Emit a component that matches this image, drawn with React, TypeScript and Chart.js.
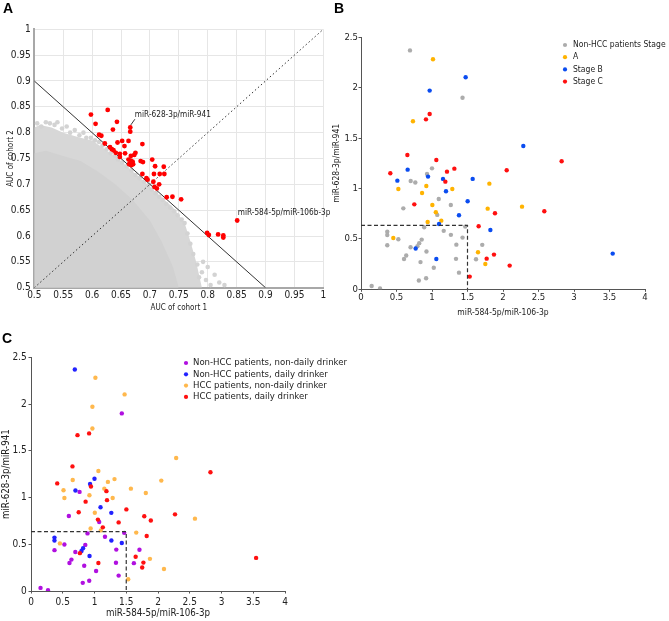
import React, { useEffect, useRef } from "react";
import { Chart, registerables } from "chart.js";

Chart.register(...registerables);

const FONT = "'DejaVu Sans Condensed', 'DejaVu Sans', sans-serif";
const TEXT = "#222";

// ---------------- Panel A : AUC of cohort 1 vs cohort 2 ----------------
const A_TICKS = [0.5, 0.55, 0.6, 0.65, 0.7, 0.75, 0.8, 0.85, 0.9, 0.95, 1];
const A_X_TITLE = "AUC of cohort 1";
const A_Y_TITLE = "AUC of cohort 2";

// selected ratios (red)
const A_SEL_X = [0.598, 0.606, 0.612, 0.616, 0.627, 0.643, 0.666, 0.666, 0.636, 0.622, 0.631, 0.634, 0.637, 0.644, 0.652, 0.663, 0.687, 0.656, 0.641, 0.648, 0.648, 0.657, 0.667, 0.673, 0.675, 0.663, 0.667, 0.670, 0.664, 0.668, 0.671, 0.684, 0.688, 0.704, 0.709, 0.724, 0.687, 0.707, 0.717, 0.725, 0.694, 0.696, 0.706, 0.716, 0.708, 0.712, 0.729, 0.739, 0.754, 0.851, 0.799, 0.802, 0.818, 0.827, 0.827];
const A_SEL_Y = [0.835, 0.817, 0.796, 0.794, 0.844, 0.821, 0.810, 0.802, 0.806, 0.779, 0.772, 0.768, 0.766, 0.781, 0.784, 0.784, 0.778, 0.774, 0.761, 0.759, 0.753, 0.760, 0.755, 0.757, 0.761, 0.748, 0.746, 0.744, 0.739, 0.737, 0.739, 0.745, 0.743, 0.748, 0.735, 0.734, 0.720, 0.720, 0.720, 0.720, 0.712, 0.709, 0.705, 0.700, 0.695, 0.692, 0.675, 0.676, 0.671, 0.630, 0.606, 0.602, 0.603, 0.601, 0.597];

// outline of the dense grey cloud of all other ratios
const A_CLOUD_OUTER_X = [0.5, 0.51, 0.53, 0.55, 0.58, 0.6, 0.62, 0.65, 0.68, 0.71, 0.74, 0.76, 0.77, 0.78, 0.79];
const A_CLOUD_OUTER_Y = [0.81, 0.815, 0.81, 0.80, 0.79, 0.785, 0.77, 0.745, 0.715, 0.685, 0.655, 0.625, 0.59, 0.55, 0.5];
const A_CLOUD_INNER_X = [0.5, 0.52, 0.55, 0.58, 0.61, 0.64, 0.67, 0.7, 0.72, 0.74, 0.75];
const A_CLOUD_INNER_Y = [0.76, 0.765, 0.755, 0.745, 0.725, 0.70, 0.67, 0.63, 0.59, 0.54, 0.5];
// scattered grey ratios along the cloud edge
const A_GREY_X = [0.505, 0.512, 0.52, 0.527, 0.535, 0.54, 0.548, 0.556, 0.562, 0.57, 0.578, 0.585, 0.59, 0.598, 0.605, 0.612, 0.618, 0.625, 0.632, 0.64, 0.645, 0.652, 0.66, 0.668, 0.675, 0.682, 0.69, 0.697, 0.703, 0.71, 0.716, 0.722, 0.728, 0.735, 0.742, 0.748, 0.755, 0.76, 0.765, 0.77, 0.775, 0.782, 0.79, 0.785, 0.797, 0.80, 0.812, 0.82, 0.829, 0.805, 0.792];
const A_GREY_Y = [0.818, 0.812, 0.82, 0.818, 0.815, 0.82, 0.808, 0.812, 0.80, 0.805, 0.795, 0.80, 0.79, 0.79, 0.785, 0.782, 0.775, 0.768, 0.76, 0.755, 0.748, 0.742, 0.735, 0.727, 0.718, 0.712, 0.705, 0.698, 0.69, 0.683, 0.676, 0.67, 0.662, 0.655, 0.648, 0.64, 0.632, 0.625, 0.605, 0.585, 0.565, 0.545, 0.53, 0.52, 0.515, 0.54, 0.525, 0.51, 0.505, 0.505, 0.55];

const A_CUT_X = [0.5, 0.9];
const A_CUT_Y = [0.9, 0.5];
const A_DIAG_X = [0.5, 1];
const A_DIAG_Y = [0.5, 1];
const A_LEADER_X = [0.667, 0.674];
const A_LEADER_Y = [0.815, 0.826];
const A_NOTES = [
  { text: "miR-628-3p/miR-941", x: 0.674, y: 0.834 },
  { text: "miR-584-5p/miR-106b-3p", x: 0.852, y: 0.644 },
];

// ---------------- Panels B and C : ratio scatter ----------------
const R_X_TICKS = [0, 0.5, 1, 1.5, 2, 2.5, 3, 3.5, 4];
const R_Y_TICKS = [0, 0.5, 1, 1.5, 2, 2.5];
const R_X_TITLE = "miR-584-5p/miR-106-3p";
const R_Y_TITLE = "miR-628-3p/miR-941";
const CUTOFF_X = [0, 1.5, 1.5];
const CUTOFF_Y = [0.635, 0.635, 0];

// each patient: ratio values, group (N = non-HCC, A/B/C = HCC stage), daily drinker (1/0)
const PT_X = [
  0.69, 1.43, 1.00, 0.93, 0.70, 0.765, 1.095, 0.596, 1.265, 1.074, 1.468, 0.89, 0.37, 0.37, 0.526, 0.855, 1.165, 1.266, 1.43, 1.708, 0.37, 0.698, 0.795, 0.82, 0.922, 1.343, 0.637, 0.606, 1.338, 1.62, 0.838, 1.025, 1.38, 0.917, 0.815, 0.15, 0.268,
  1.014, 0.732, 0.92, 0.526, 1.286, 0.86, 1.808, 1.005, 1.784, 2.268, 1.054, 0.939, 1.131, 0.455, 1.648, 1.751,
  1.474, 0.967, 2.286, 0.657, 0.944, 1.155, 0.512, 1.573, 1.197, 1.502, 1.38, 1.099, 1.822, 0.77, 1.061, 3.545,
  0.967, 0.915, 0.653, 1.061, 1.315, 1.211, 0.413, 1.188, 2.052, 2.826, 0.751, 1.887, 2.582, 1.657, 1.77, 1.873, 2.094, 1.531,
];
const PT_Y = [
  2.37, 1.90, 1.20, 1.145, 1.075, 1.06, 0.896, 0.803, 0.836, 0.738, 0.622, 0.616, 0.571, 0.539, 0.497, 0.493, 0.58, 0.54, 0.513, 0.441, 0.437, 0.417, 0.428, 0.458, 0.375, 0.443, 0.336, 0.3, 0.302, 0.298, 0.27, 0.214, 0.165, 0.109, 0.087, 0.033, 0.008,
  2.282, 1.667, 1.025, 0.995, 0.995, 0.956, 1.048, 0.837, 0.80, 0.82, 0.764, 0.668, 0.681, 0.509, 0.367, 0.251,
  2.103, 1.971, 1.422, 1.187, 1.118, 1.095, 1.078, 1.095, 0.972, 0.873, 0.734, 0.648, 0.589, 0.405, 0.30, 0.354,
  1.739, 1.686, 1.333, 1.283, 1.197, 1.167, 1.151, 1.068, 1.181, 1.27, 0.843, 0.754, 0.774, 0.625, 0.304, 0.344, 0.235, 0.126,
];
const PT_GROUP = [
  "N", "N", "N", "N", "N", "N", "N", "N", "N", "N", "N", "N", "N", "N", "N", "N", "N", "N", "N", "N", "N", "N", "N", "N", "N", "N", "N", "N", "N", "N", "N", "N", "N", "N", "N", "N", "N",
  "A", "A", "A", "A", "A", "A", "A", "A", "A", "A", "A", "A", "A", "A", "A", "A",
  "B", "B", "B", "B", "B", "B", "B", "B", "B", "B", "B", "B", "B", "B", "B", "B",
  "C", "C", "C", "C", "C", "C", "C", "C", "C", "C", "C", "C", "C", "C", "C", "C", "C", "C",
];
const PT_DAILY = [
  1, 0, 1, 1, 1, 0, 1, 0, 1, 0, 0, 0, 1, 1, 0, 0, 0, 1, 1, 0, 0, 0, 1, 1, 1, 0, 0, 0, 0, 0, 0, 0, 0, 0, 0, 0, 0,
  0, 1, 0, 0, 0, 1, 0, 0, 1, 1, 1, 0, 1, 0, 1, 1,
  0, 0, 0, 0, 1, 0, 0, 0, 1, 1, 1, 0, 1, 1, 1, 1,
  0, 1, 1, 0, 0, 0, 1, 1, 0, 1, 1, 1, 0, 0, 1, 0, 0, 0,
];

const B_LABELS = ["Non-HCC patients Stage", "A", "Stage B", "Stage C"];
const B_KEYS = ["N", "A", "B", "C"];
const B_COLORS = ["#acacac", "#ffb300", "#0a4cf0", "#ff1010"];

const C_LABELS = [
  "Non-HCC patients, non-daily drinker",
  "Non-HCC patients, daily drinker",
  "HCC patients, non-daily drinker",
  "HCC patients, daily drinker",
];
const C_COLORS = ["#b010e0", "#2222ff", "#ffb84d", "#ff1010"];

// ---------------- helpers ----------------
const zip = (xs: number[], ys: number[]) => xs.map((x, i) => ({ x, y: ys[i] }));
const fmt = (v: any) => String(+Number(v).toFixed(2));

function legendPlugin(labels: string[], colors: string[], dx: number, dy: number, step: number, size: number, gap: number) {
  return {
    id: "customLegend",
    afterDraw(chart: any) {
      const { ctx, chartArea } = chart;
      ctx.save();
      ctx.font = `${size}px ${FONT}`;
      ctx.textBaseline = "middle";
      ctx.textAlign = "left";
      labels.forEach((lab, i) => {
        const cx = chartArea.left + dx;
        const cy = chartArea.top + dy + i * step;
        ctx.fillStyle = colors[i];
        ctx.beginPath();
        ctx.arc(cx, cy, 2.1, 0, Math.PI * 2);
        ctx.fill();
        ctx.fillStyle = TEXT;
        ctx.fillText(lab, cx + gap, cy);
      });
      ctx.restore();
    },
  };
}

const notesPlugin = {
  id: "notes",
  afterDatasetsDraw(chart: any) {
    const { ctx } = chart;
    const xs = chart.scales.x;
    const ys = chart.scales.y;
    ctx.save();
    ctx.font = `8.2px ${FONT}`;
    ctx.fillStyle = TEXT;
    ctx.textBaseline = "middle";
    ctx.textAlign = "left";
    A_NOTES.forEach((n) => ctx.fillText(n.text, xs.getPixelForValue(n.x), ys.getPixelForValue(n.y)));
    ctx.restore();
  },
};

function configA(): any {
  const tickFont = { family: FONT, size: 10 };
  const titleFont = { family: FONT, size: 8 };
  return {
    type: "scatter",
    data: {
      datasets: [
        { data: zip(A_SEL_X, A_SEL_Y), backgroundColor: "#ff0000", borderWidth: 0, pointRadius: 2.4, order: 1 },
        { type: "line", data: zip(A_LEADER_X, A_LEADER_Y), borderColor: "#222", borderWidth: 0.9, pointRadius: 0, fill: false, order: 2 },
        { type: "line", data: zip(A_CUT_X, A_CUT_Y), borderColor: "#333", borderWidth: 1, pointRadius: 0, fill: false, order: 3 },
        { type: "line", data: zip(A_DIAG_X, A_DIAG_Y), borderColor: "#333", borderWidth: 1, borderDash: [1.5, 2.5], pointRadius: 0, fill: false, order: 4 },
        { data: zip(A_GREY_X, A_GREY_Y), backgroundColor: "#d3d3d3", borderWidth: 0, pointRadius: 2.3, order: 5 },
        { type: "line", data: zip(A_CLOUD_INNER_X, A_CLOUD_INNER_Y), borderColor: "rgba(0,0,0,0)", backgroundColor: "#d1d1d1", pointRadius: 0, tension: 0, fill: "start", order: 6 },
        { type: "line", data: zip(A_CLOUD_OUTER_X, A_CLOUD_OUTER_Y), borderColor: "rgba(0,0,0,0)", backgroundColor: "#d7d7d7", pointRadius: 0, tension: 0, fill: "start", order: 7 },
      ],
    },
    options: {
      animation: false,
      responsive: false,
      devicePixelRatio: 1,
      events: [],
      layout: { padding: { left: 0, top: 29.3, right: 6.7, bottom: 0 } },
      plugins: { legend: { display: false }, tooltip: { enabled: false } },
      scales: {
        x: {
          type: "linear", min: 0.5, max: 1,
          afterBuildTicks: (s: any) => { s.ticks = A_TICKS.map((v) => ({ value: v })); },
          afterFit: (s: any) => { s.height = 32.3; s.paddingLeft = 0; s.paddingRight = 0; },
          ticks: { font: tickFont, color: TEXT, padding: 1.3, maxRotation: 0, autoSkip: false, callback: fmt },
          grid: { color: "#e6e6e6", drawTicks: false },
          border: { color: "#a8a8a8", width: 2 },
          title: { display: true, text: A_X_TITLE, font: titleFont, color: TEXT, padding: { top: 0, bottom: 7.2 } },
        },
        y: {
          type: "linear", min: 0.5, max: 1,
          afterBuildTicks: (s: any) => { s.ticks = A_TICKS.map((v) => ({ value: v })); },
          afterFit: (s: any) => { s.width = 34.3; s.paddingTop = 0; s.paddingBottom = 0; },
          ticks: { font: tickFont, color: TEXT, padding: 3.6, autoSkip: false, callback: fmt },
          grid: { color: "#e6e6e6", drawTicks: false },
          border: { color: "#a8a8a8", width: 2 },
          title: { display: true, text: A_Y_TITLE, font: titleFont, color: TEXT, padding: { top: 6.5, bottom: 0 } },
        },
      },
    },
    plugins: [notesPlugin],
  };
}

type RatioLayout = {
  pad: { left: number; top: number; right: number; bottom: number };
  yWidth: number; xHeight: number; tickSize: number; titleSize: number;
  xTickPad: number; yTickPad: number; xTitlePad: number; yTitlePad: number;
};

function configRatio(panel: "B" | "C", L: RatioLayout): any {
  const groups: { idx: number[]; color: string }[] = [];
  if (panel === "B") {
    B_KEYS.forEach((k, gi) => {
      groups.push({ idx: PT_GROUP.map((g, i) => (g === k ? i : -1)).filter((i) => i >= 0), color: B_COLORS[gi] });
    });
  } else {
    const cls = PT_GROUP.map((g, i) => (g === "N" ? 0 : 2) + PT_DAILY[i]);
    [0, 1, 2, 3].forEach((c) => {
      groups.push({ idx: cls.map((v, i) => (v === c ? i : -1)).filter((i) => i >= 0), color: C_COLORS[c] });
    });
  }
  const pointSets = groups.map((g, gi) => ({
    data: g.idx.map((i) => ({ x: PT_X[i], y: PT_Y[i] })),
    backgroundColor: g.color,
    borderWidth: 0,
    pointRadius: 2.2,
    order: 10 - gi,
  }));
  const tickFont = { family: FONT, size: L.tickSize };
  const titleFont = { family: FONT, size: L.titleSize };
  const legend = panel === "B"
    ? legendPlugin(B_LABELS, B_COLORS, 204, 7.7, 12.2, 8.5, 8)
    : legendPlugin(C_LABELS, C_COLORS, 155, 5.7, 11.3, 9.5, 7);
  return {
    type: "scatter",
    data: {
      datasets: [
        { type: "line", data: zip(CUTOFF_X, CUTOFF_Y), borderColor: "#333", borderWidth: 1.2, borderDash: [4, 2.5], pointRadius: 0, fill: false, order: 1 },
        ...pointSets,
      ],
    },
    options: {
      animation: false,
      responsive: false,
      devicePixelRatio: 1,
      events: [],
      layout: { padding: L.pad },
      plugins: { legend: { display: false }, tooltip: { enabled: false } },
      scales: {
        x: {
          type: "linear", min: 0, max: 4,
          afterBuildTicks: (s: any) => { s.ticks = R_X_TICKS.map((v) => ({ value: v })); },
          afterFit: (s: any) => { s.height = L.xHeight; s.paddingLeft = 0; s.paddingRight = 0; },
          ticks: { font: tickFont, color: TEXT, padding: L.xTickPad, maxRotation: 0, autoSkip: false, callback: fmt },
          grid: { drawOnChartArea: false, drawTicks: true, tickLength: 2.5, color: "#555" },
          border: { color: "#555", width: 1 },
          title: { display: true, text: R_X_TITLE, font: titleFont, color: TEXT, padding: { top: 0, bottom: L.xTitlePad } },
        },
        y: {
          type: "linear", min: 0, max: 2.5,
          afterBuildTicks: (s: any) => { s.ticks = R_Y_TICKS.map((v) => ({ value: v })); },
          afterFit: (s: any) => { s.width = L.yWidth; s.paddingTop = 0; s.paddingBottom = 0; },
          ticks: { font: tickFont, color: TEXT, padding: L.yTickPad, autoSkip: false, callback: fmt },
          grid: { drawOnChartArea: false, drawTicks: true, tickLength: 2.5, color: "#555" },
          border: { color: "#555", width: 1 },
          title: { display: true, text: R_Y_TITLE, font: titleFont, color: TEXT, padding: { top: L.yTitlePad, bottom: 0 } },
        },
      },
    },
    plugins: [legend],
  };
}

function ChartBox({ make, left, top, width, height }: { make: () => any; left: number; top: number; width: number; height: number }) {
  const ref = useRef<HTMLCanvasElement>(null);
  useEffect(() => {
    const chart = new Chart(ref.current as HTMLCanvasElement, make());
    return () => chart.destroy();
  }, []);
  return (
    <canvas
      ref={ref}
      width={width}
      height={height}
      style={{ position: "absolute", left, top, width, height }}
    />
  );
}

const letter: React.CSSProperties = {
  position: "absolute",
  font: "bold 14px 'Liberation Sans', Arial, sans-serif",
  color: "#000",
  lineHeight: "16px",
};

export default function App() {
  return (
    <div style={{ position: "absolute", left: 0, top: 0, width: 669, height: 621, background: "#fff", overflow: "hidden" }}>
      <ChartBox make={configA} left={0} top={0} width={330} height={320} />
      <ChartBox
        make={() => configRatio("B", {
          pad: { left: 0, top: 37.3, right: 24, bottom: 0 }, yWidth: 31, xHeight: 35.7,
          tickSize: 9.5, titleSize: 8.5, xTickPad: 0, yTickPad: 0.5, xTitlePad: 7.5, yTitlePad: 1.5,
        })}
        left={330} top={0} width={339} height={325}
      />
      <ChartBox
        make={() => configRatio("C", {
          pad: { left: 0, top: 27.3, right: 75, bottom: 0 }, yWidth: 31, xHeight: 30,
          tickSize: 10, titleSize: 9.7, xTickPad: 2.5, yTickPad: 1.8, xTitlePad: 1.7, yTitlePad: 0.7,
        })}
        left={0} top={330} width={360} height={291}
      />
      <div style={{ ...letter, left: 3, top: 0 }}>A</div>
      <div style={{ ...letter, left: 334, top: 0 }}>B</div>
      <div style={{ ...letter, left: 2, top: 330 }}>C</div>
    </div>
  );
}
